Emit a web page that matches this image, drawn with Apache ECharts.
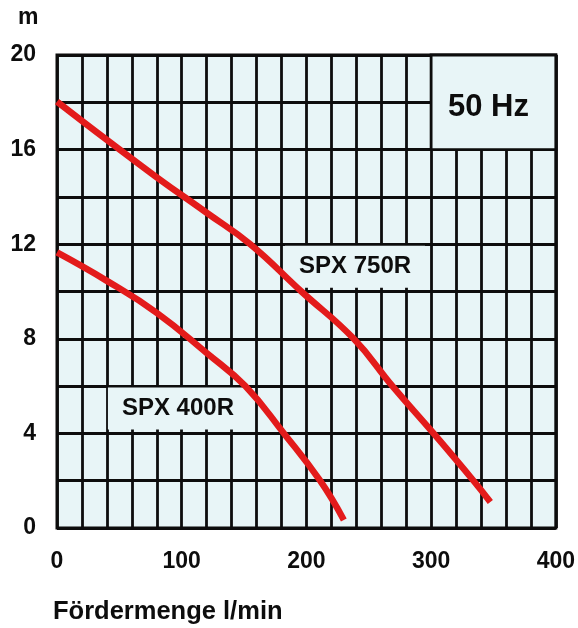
<!DOCTYPE html>
<html>
<head>
<meta charset="utf-8">
<script src="https://cdn.jsdelivr.net/npm/echarts@6/dist/echarts.min.js"></script>
<style>
html,body{margin:0;padding:0;background:#fff;}
#c{width:578px;height:628px;}
</style>
</head>
<body>
<div id="c"></div>
<script>
// Data (flow l/min, head m)
var spx750Flow = [0, 40, 80, 120, 155, 196, 238, 269, 302, 334, 347.5];
var spx750Head = [18.03, 16.41, 14.83, 13.33, 12.0, 10.0, 8.0, 6.0, 4.0, 2.0, 1.1];
var spx400Flow = [0, 40, 80, 120, 151, 182, 211, 230];
var spx400Head = [11.65, 10.45, 9.1, 7.4, 6.0, 4.0, 2.0, 0.34];
var seriesNames = ['SPX 750R', 'SPX 400R'];
var xTickLabels = [0, 100, 200, 300, 400];
var yTickLabels = [0, 4, 8, 12, 16, 20];
var freqLabel = '50 Hz';
var xAxisTitle = 'Fördermenge l/min';
var yAxisTitle = 'm';

function pairs(xs, ys) { return xs.map(function (x, i) { return [x, ys[i]]; }); }

var BG = '#e8f5f7';
var RED = '#e31b1b';
var INK = '#0d0d0d';
var FONT = '"Liberation Sans", Arial, sans-serif';

var chart = echarts.init(document.getElementById('c'));
var labelStyle = {
  show: true, color: INK, fontFamily: FONT, fontWeight: 'bold', fontSize: 24,
  backgroundColor: BG, padding: [9, 14]
};
chart.setOption({
  animation: false,
  backgroundColor: '#fff',
  grid: { left: 57, right: 22, top: 55, bottom: 100, show: true, backgroundColor: BG, borderColor: INK, borderWidth: 3 },
  xAxis: {
    type: 'value', min: 0, max: 400, interval: 20,
    axisLine: { show: false }, axisTick: { show: false },
    splitLine: { show: true, lineStyle: { color: INK, width: 2.8 } },
    axisLabel: {
      margin: 22, color: INK, fontFamily: FONT, fontWeight: 'bold', fontSize: 23,
      showMinLabel: true, showMaxLabel: true,
      formatter: function (v) { return xTickLabels.indexOf(v) >= 0 ? String(v) : ''; }
    }
  },
  yAxis: {
    type: 'value', min: 0, max: 20, interval: 2,
    axisLine: { show: false }, axisTick: { show: false },
    splitLine: { show: true, lineStyle: { color: INK, width: 2.8 } },
    axisLabel: {
      margin: 21, color: INK, fontFamily: FONT, fontWeight: 'bold', fontSize: 23,
      formatter: function (v) { return yTickLabels.indexOf(v) >= 0 ? String(v) : ''; }
    }
  },
  graphic: [
    { type: 'text', left: 18, top: 6, style: { text: yAxisTitle, fill: INK, font: 'bold 23px ' + FONT } },
    { type: 'text', left: 53, top: 599, style: { text: xAxisTitle, fill: INK, font: 'bold 25.5px ' + FONT } }
  ],
  series: [
    {
      name: seriesNames[0], type: 'line', smooth: 0.45, symbol: 'none', z: 3,
      lineStyle: { color: RED, width: 6.5 },
      data: pairs(spx750Flow, spx750Head),
      markArea: {
        silent: true, z: 1,
        itemStyle: { color: BG, borderColor: INK, borderWidth: 2.8 },
        label: { show: true, position: 'inside', offset: [-5, 5], color: INK, fontFamily: FONT, fontWeight: 'bold', fontSize: 31 },
        data: [[{ name: freqLabel, coord: [300, 20] }, { coord: [400, 16] }]]
      },
      markPoint: {
        silent: true, z: 2, symbol: 'rect', symbolSize: 0,
        label: Object.assign({ formatter: seriesNames[0] }, labelStyle),
        data: [{ coord: [239, 11.05] }]
      }
    },
    {
      name: seriesNames[1], type: 'line', smooth: 0.45, symbol: 'none', z: 3,
      lineStyle: { color: RED, width: 6.5 },
      data: pairs(spx400Flow, spx400Head),
      markPoint: {
        silent: true, z: 2, symbol: 'rect', symbolSize: 0,
        label: Object.assign({ formatter: seriesNames[1] }, labelStyle),
        data: [{ coord: [97, 5.05] }]
      }
    }
  ]
});
</script>
</body>
</html>
